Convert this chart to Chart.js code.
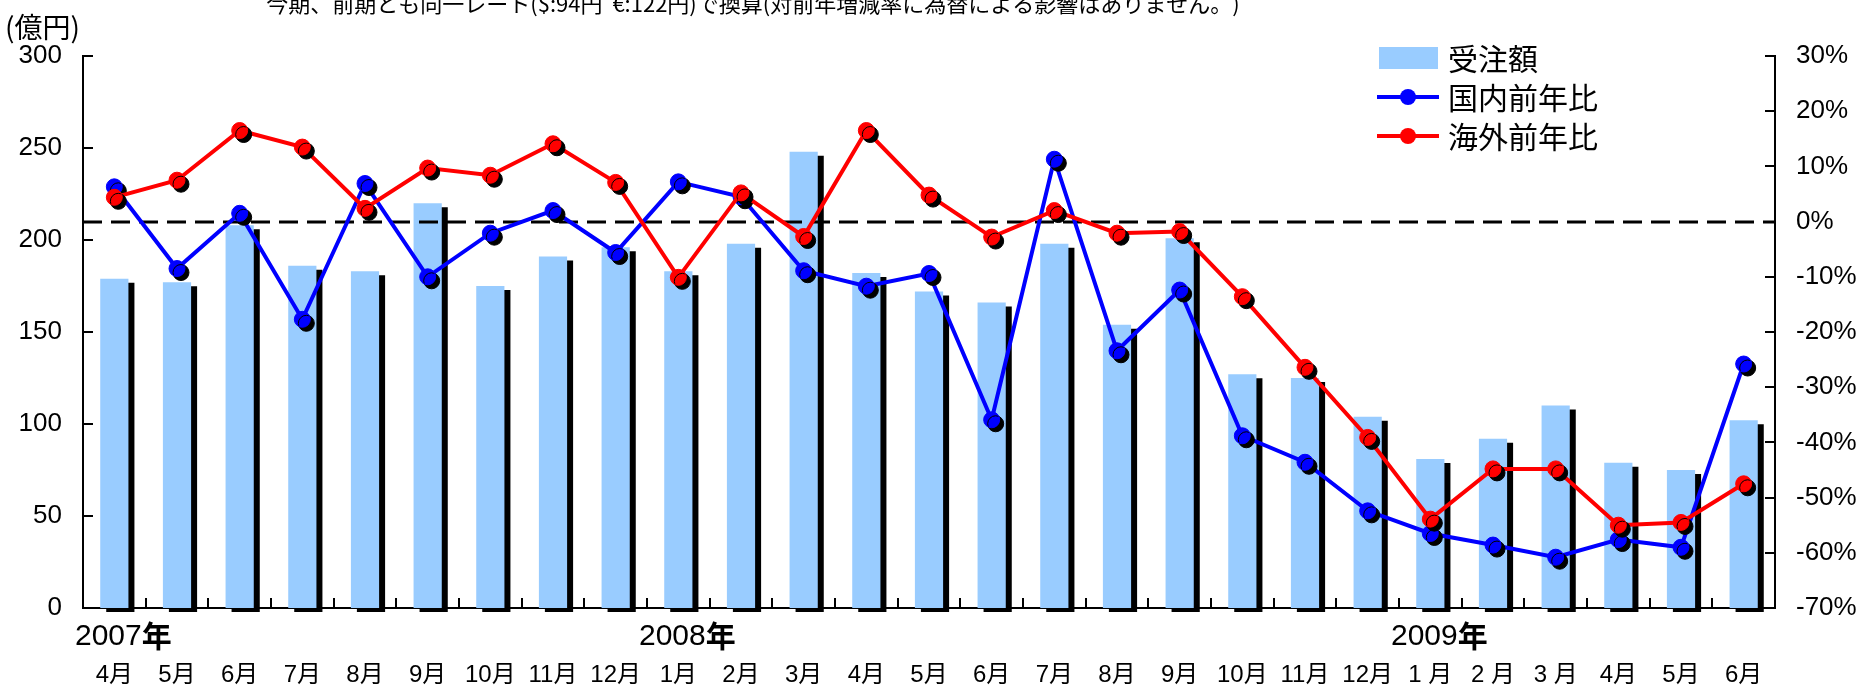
<!DOCTYPE html>
<html>
<head>
<meta charset="utf-8">
<script src="https://cdn.jsdelivr.net/npm/chart.js@4.4.1/dist/chart.umd.min.js"></script>
<style>
  html, body { margin: 0; padding: 0; background: #fff; }
  canvas { display: block; }
</style>
</head>
<body>
<canvas id="chart" width="1873" height="687" style="width:1873px;height:687px"></canvas>
<script>
// months on the x axis (Apr 2007 - Jun 2009)
const months = ['4月', '5月', '6月', '7月', '8月', '9月', '10月', '11月', '12月',
  '1月', '2月', '3月', '4月', '5月', '6月', '7月', '8月', '9月', '10月', '11月', '12月',
  '1 月', '2 月', '3 月', '4月', '5月', '6月'];
// year captions and the month index they sit under
const years = ['2007', '2008', '2009'];
const yearIndex = [0, 9, 21];

// 受注額 (億円)
const orders = [179, 177, 208, 186, 183, 220, 175, 191, 196, 183, 198, 248, 182, 172, 166,
  198, 154, 201, 127, 125, 104, 81, 92, 110, 79, 75, 102];
// 国内前年比 (%)
const domestic = [6.3, -8.5, 1.5, -17.7, 6.9, -10.0, -2.1, 2.0, -5.6, 7.2, 4.5, -8.9, -11.7,
  -9.4, -35.9, 11.3, -23.4, -12.4, -38.8, -43.6, -52.4, -56.5, -58.6, -60.8, -57.6, -59.0, -25.8];
// 海外前年比 (%)
const overseas = [4.4, 7.5, 16.5, 13.5, 2.4, 9.7, 8.4, 14.1, 7.1, -10.1, 5.2, -2.7, 16.5,
  4.8, -2.8, 2.0, -2.1, -1.8, -13.6, -26.4, -39.1, -53.9, -44.8, -44.8, -55.0, -54.5, -47.5];

// axis ranges
const leftMin = 0, leftMax = 300, leftStep = 50;
const rightMin = -70, rightMax = 30, rightStep = 10;

const noteText = '今期、前期とも同一レート($:94円  €:122円)で換算(対前年増減率に為替による影響はありません。)';
const unitText = '(億円)';

const LATIN = "'Liberation Sans', 'Noto Sans CJK JP', sans-serif";
const CJK = "'Noto Sans CJK JP', sans-serif";

// black drop shadows on bars and markers, dashed 0% line over the bars
const shadowPlugin = {
  id: 'shadows',
  beforeDatasetDraw(chart, args) {
    const ctx = chart.ctx;
    const isBar = args.meta.type === 'bar';
    ctx.save();
    ctx.shadowColor = '#000';
    ctx.shadowBlur = 0;
    ctx.shadowOffsetX = isBar ? 6 : 4;
    ctx.shadowOffsetY = 4;
    const line = args.meta.dataset;
    if (line && !line.noShadow) {
      const draw = line.draw;
      line.draw = function (c, ...rest) {
        c.save();
        c.shadowColor = 'rgba(0,0,0,0)';
        draw.call(this, c, ...rest);
        c.restore();
      };
      line.noShadow = true;
    }
  },
  afterDatasetDraw(chart, args) {
    const ctx = chart.ctx;
    ctx.restore();
    if (args.meta.type === 'bar') {
      const y = Math.round(chart.scales.y2.getPixelForValue(0));
      const area = chart.chartArea;
      ctx.save();
      ctx.strokeStyle = '#000';
      ctx.lineWidth = 3;
      ctx.setLineDash([19, 9]);
      ctx.beginPath();
      ctx.moveTo(area.left, y);
      ctx.lineTo(area.right, y);
      ctx.stroke();
      ctx.restore();
    }
  }
};

// inward tick marks, year captions, legend and header texts
const decorPlugin = {
  id: 'decor',
  afterDraw(chart) {
    const ctx = chart.ctx;
    const area = chart.chartArea;
    const x = chart.scales.x, y = chart.scales.y, y2 = chart.scales.y2;
    ctx.save();
    ctx.strokeStyle = '#000';
    ctx.lineWidth = 2;
    ctx.beginPath();
    for (let v = leftMin; v <= leftMax; v += leftStep) {
      const py = Math.round(y.getPixelForValue(v));
      ctx.moveTo(area.left, py);
      ctx.lineTo(area.left + 10, py);
    }
    for (let v = rightMin; v <= rightMax; v += rightStep) {
      const py = Math.round(y2.getPixelForValue(v));
      ctx.moveTo(area.right, py);
      ctx.lineTo(area.right - 10, py);
    }
    for (let i = 1; i < months.length; i++) {
      const px = Math.round((x.getPixelForValue(i - 1) + x.getPixelForValue(i)) / 2);
      ctx.moveTo(px, area.bottom);
      ctx.lineTo(px, area.bottom - 10);
    }
    ctx.stroke();

    // year captions: digits regular, 年 bold
    ctx.fillStyle = '#000';
    ctx.textBaseline = 'alphabetic';
    years.forEach((yr, k) => {
      ctx.font = '30px ' + LATIN;
      const w1 = ctx.measureText(yr).width;
      ctx.font = 'bold 30px ' + CJK;
      const w2 = ctx.measureText('年').width;
      const cx = x.getPixelForValue(yearIndex[k]) + 9;
      const left = cx - (w1 + w2) / 2;
      ctx.font = '30px ' + LATIN;
      ctx.textAlign = 'left';
      ctx.fillText(yr, left, 645);
      ctx.font = 'bold 30px ' + CJK;
      ctx.fillText('年', left + w1, 647);
    });

    // legend
    const rows = [58, 97, 136];
    chart.data.datasets.forEach((ds, i) => {
      const ry = rows[i];
      if (ds.type === 'bar') {
        ctx.fillStyle = ds.backgroundColor;
        ctx.fillRect(1379, ry - 11, 59, 22);
      } else {
        ctx.strokeStyle = ds.borderColor;
        ctx.lineWidth = 4;
        ctx.beginPath();
        ctx.moveTo(1377, ry);
        ctx.lineTo(1439, ry);
        ctx.stroke();
        ctx.fillStyle = ds.borderColor;
        ctx.beginPath();
        ctx.arc(1408, ry, 8, 0, Math.PI * 2);
        ctx.fill();
      }
      ctx.fillStyle = '#000';
      ctx.font = '30px ' + CJK;
      ctx.textAlign = 'left';
      ctx.textBaseline = 'middle';
      ctx.fillText(ds.label, 1448, ry + 1);
    });

    // header note (partly above the canvas) and unit
    ctx.textBaseline = 'alphabetic';
    ctx.textAlign = 'center';
    ctx.font = '22px ' + CJK;
    ctx.fillText(noteText, 753, 12);
    ctx.textAlign = 'left';
    ctx.font = '28px ' + CJK;
    ctx.fillText(unitText, 5, 38);
    ctx.restore();
  }
};

const ctx = document.getElementById('chart').getContext('2d');
new Chart(ctx, {
  data: {
    labels: months,
    datasets: [
      {
        type: 'bar',
        label: '受注額',
        data: orders,
        backgroundColor: '#99CCFF',
        borderWidth: 0,
        barPercentage: 0.45,
        categoryPercentage: 1,
        yAxisID: 'y',
        order: 3,
        clip: false
      },
      {
        type: 'line',
        label: '国内前年比',
        data: domestic,
        borderColor: '#0000FF',
        backgroundColor: '#0000FF',
        pointBackgroundColor: '#0000FF',
        pointBorderColor: '#0000FF',
        borderWidth: 4,
        pointRadius: 8,
        pointBorderWidth: 1,
        tension: 0,
        yAxisID: 'y2',
        order: 2,
        clip: false
      },
      {
        type: 'line',
        label: '海外前年比',
        data: overseas,
        borderColor: '#FF0000',
        backgroundColor: '#FF0000',
        pointBackgroundColor: '#FF0000',
        pointBorderColor: '#FF0000',
        borderWidth: 4,
        pointRadius: 8,
        pointBorderWidth: 1,
        tension: 0,
        yAxisID: 'y2',
        order: 1,
        clip: false
      }
    ]
  },
  options: {
    responsive: false,
    animation: false,
    devicePixelRatio: 1,
    events: [],
    layout: { padding: { top: 56, left: 0, right: 0, bottom: 0 } },
    plugins: {
      legend: { display: false },
      title: { display: false },
      tooltip: { enabled: false }
    },
    scales: {
      x: {
        type: 'category',
        offset: true,
        grid: { display: false, drawTicks: false },
        border: { display: true, color: '#000', width: 2 },
        ticks: {
          color: '#000',
          font: { family: LATIN, size: 24 },
          padding: 53,
          autoSkip: false,
          maxRotation: 0
        },
        afterFit(scale) { scale.height = 79; }
      },
      y: {
        position: 'left',
        min: leftMin,
        max: leftMax,
        grid: { display: false, drawTicks: false },
        border: { display: true, color: '#000', width: 2 },
        ticks: {
          stepSize: leftStep,
          color: '#000',
          font: { family: LATIN, size: 26 },
          padding: 21
        },
        afterFit(scale) { scale.width = 83; }
      },
      y2: {
        position: 'right',
        min: rightMin,
        max: rightMax,
        grid: { display: false, drawTicks: false },
        border: { display: true, color: '#000', width: 2 },
        ticks: {
          stepSize: rightStep,
          color: '#000',
          font: { family: LATIN, size: 26 },
          padding: 21,
          callback: v => v + '%'
        },
        afterFit(scale) { scale.width = 98; }
      }
    }
  },
  plugins: [shadowPlugin, decorPlugin]
});
</script>
</body>
</html>
